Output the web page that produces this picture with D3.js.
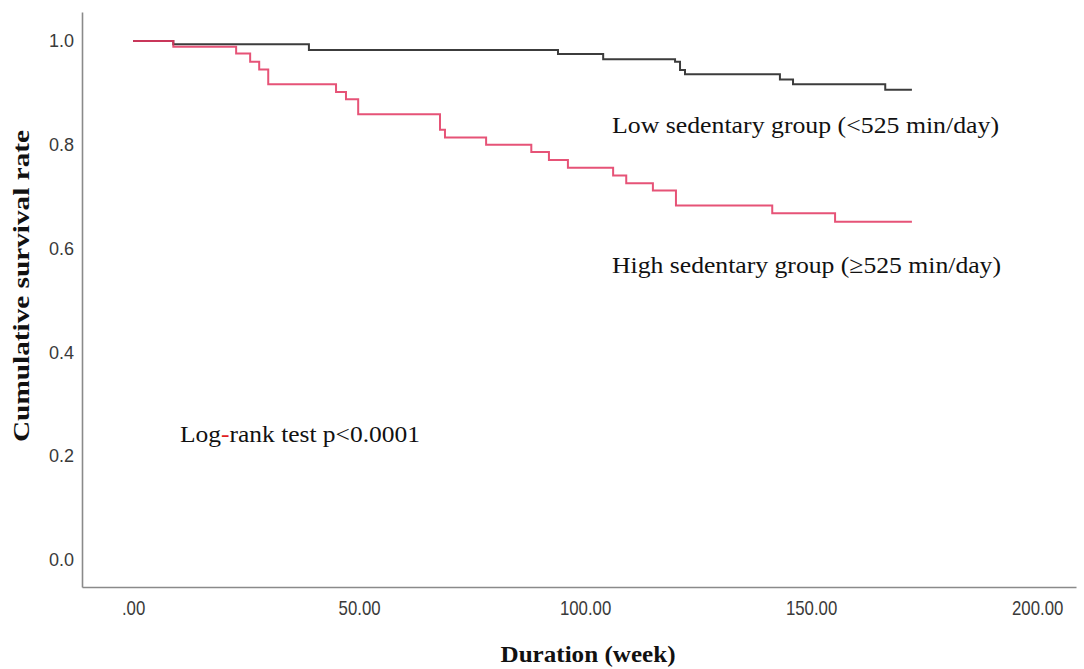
<!DOCTYPE html>
<html>
<head>
<meta charset="utf-8">
<script src="https://cdn.jsdelivr.net/npm/d3@7"></script>
<style>
  body { margin: 0; background: #fff; }
  svg { display: block; }
</style>
</head>
<body>
<svg id="chart"></svg>
<script>
// Kaplan-Meier steps (weeks, survival)
const lowTimes = [0, 8.9, 38.9, 94.0, 104.0, 119.9, 121.0, 122.1, 143.1, 146.0, 166.4, 172.3]
const lowSurv = [1.0, 0.994, 0.983, 0.975, 0.965, 0.960, 0.944, 0.936, 0.926, 0.917, 0.906, 0.906]

const highTimes = [0, 8.9, 22.8, 25.9, 27.9, 29.9, 44.9, 47.1, 49.8, 67.9, 69.0, 78.1, 88.1, 92.0, 96.2,
    106.2, 109.1, 115.0, 120.1, 141.4, 155.3, 172.3]
const highSurv = [1.0, 0.989, 0.976, 0.960, 0.945, 0.917, 0.902, 0.888, 0.859, 0.829, 0.814, 0.800, 0.786,
    0.771, 0.756, 0.741, 0.726, 0.712, 0.683, 0.668, 0.652, 0.652]

const xTicks = [0, 50, 100, 150, 200]
const yTicks = [0, 0.2, 0.4, 0.6, 0.8, 1.0]

const lowLabel = 'Low sedentary group (<525 min/day)'
const highLabel = 'High sedentary group (\u2265525 min/day)'

drawChart()

function drawChart() {

    const width = 1084
    const height = 669

    const svg = d3.select('#chart')
        .attr('width', width)
        .attr('height', height)

    const x = d3.scaleLinear().domain([-11.3, 208.6]).range([82, 1076])
    const y = d3.scaleLinear().domain([-0.052, 1.056]).range([587, 12])

    const axisColor = '#8a8a8a'

    const xAxis = svg.append('g')
        .attr('transform', `translate(0,${y.range()[0]})`)
        .call(d3.axisBottom(x)
            .tickValues(xTicks)
            .tickSize(0)
            .tickPadding(14)
            .tickFormat(d => d === 0 ? '.00' : d3.format('.2f')(d)))
    xAxis.select('.domain').attr('stroke', axisColor).attr('stroke-width', 1.6)
    xAxis.selectAll('text')
        .attr('fill', '#3a3a3a')
        .style('font-family', '"Liberation Sans", Arial, sans-serif')
        .style('font-size', '20px')
        .attr('transform', 'scale(0.84,1)')

    const yAxis = svg.append('g')
        .attr('transform', `translate(${x.range()[0]},0)`)
        .call(d3.axisLeft(y)
            .tickValues(yTicks)
            .tickSize(0)
            .tickPadding(8)
            .tickFormat(d3.format('.1f')))
    yAxis.select('.domain').attr('stroke', axisColor).attr('stroke-width', 1.6)
    yAxis.selectAll('text')
        .attr('fill', '#3a3a3a')
        .style('font-family', '"Liberation Sans", Arial, sans-serif')
        .style('font-size', '18px')

    const line = d3.line()
        .x(d => x(d[0]))
        .y(d => y(d[1]))
        .curve(d3.curveStepAfter)

    svg.append('path')
        .datum(d3.zip(lowTimes, lowSurv))
        .attr('d', line)
        .style('fill', 'none')
        .style('stroke', '#3c3c3c')
        .style('stroke-width', 2)

    svg.append('path')
        .datum(d3.zip(highTimes, highSurv))
        .attr('d', line)
        .style('fill', 'none')
        .style('stroke', '#e2355f')
        .style('stroke-opacity', 0.85)
        .style('stroke-width', 2)

    const serif = '"Liberation Serif", "Times New Roman", serif'

    svg.append('text')
        .attr('x', 612)
        .attr('y', 133)
        .attr('textLength', 387)
        .attr('lengthAdjust', 'spacingAndGlyphs')
        .style('font-family', serif)
        .style('font-size', '24px')
        .style('fill', '#111')
        .text(lowLabel)

    svg.append('text')
        .attr('x', 612)
        .attr('y', 273)
        .attr('textLength', 389)
        .attr('lengthAdjust', 'spacingAndGlyphs')
        .style('font-family', serif)
        .style('font-size', '24px')
        .style('fill', '#111')
        .text(highLabel)

    const logRank = svg.append('text')
        .attr('x', 180)
        .attr('y', 442)
        .attr('textLength', 240)
        .attr('lengthAdjust', 'spacingAndGlyphs')
        .style('font-family', serif)
        .style('font-size', '24px')
        .style('fill', '#111')
    logRank.append('tspan').text('Log')
    logRank.append('tspan').style('fill', '#e0201e').text('-')
    logRank.append('tspan').text('rank test p<0.0001')

    svg.append('text')
        .attr('transform', 'translate(29,286) rotate(-90)')
        .attr('text-anchor', 'middle')
        .attr('textLength', 312)
        .attr('lengthAdjust', 'spacingAndGlyphs')
        .style('font-family', serif)
        .style('font-weight', 'bold')
        .style('font-size', '24px')
        .style('fill', '#111')
        .text('Cumulative survival rate')

    svg.append('text')
        .attr('x', 588)
        .attr('y', 662)
        .attr('text-anchor', 'middle')
        .attr('textLength', 175)
        .attr('lengthAdjust', 'spacingAndGlyphs')
        .style('font-family', serif)
        .style('font-weight', 'bold')
        .style('font-size', '24px')
        .style('fill', '#111')
        .text('Duration (week)')
}
</script>
</body>
</html>
